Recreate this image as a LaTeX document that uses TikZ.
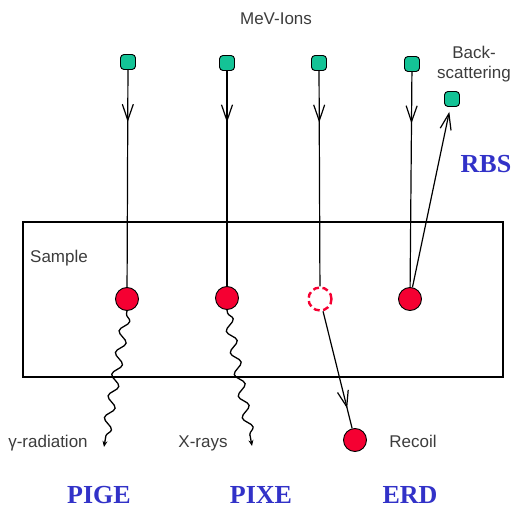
\documentclass[tikz,border=0pt]{standalone}
\usepackage{fontspec}
\setmainfont{Liberation Sans}
\newfontfamily\bigserif{Liberation Serif}
\usetikzlibrary{arrows.meta,decorations.markings,decorations.pathmorphing}
\definecolor{ballred}{RGB}{245,0,50}
\definecolor{iongreen}{RGB}{20,195,150}
\definecolor{labelblue}{RGB}{50,50,200}
\definecolor{txtgray}{RGB}{60,60,60}
\tikzset{
  ion/.style={draw=black,fill=iongreen,rounded corners=3.5pt,minimum size=15pt,inner sep=0pt,line width=0.9pt},
  ball/.style={circle,draw=black,fill=ballred,minimum size=23pt,inner sep=0pt,line width=0.9pt},
  ghost/.style={circle,draw=ballred,dash pattern=on 6pt off 3.5pt,minimum size=23pt,inner sep=0pt,line width=2.4pt},
  beam/.style={line width=1.2pt,postaction={decorate},decoration={markings,mark=at position #1 with {\arrow{Straight Barb[length=16pt,width=11pt,line width=1.2pt]}}}},
  wave/.style={line width=1.3pt,decorate,decoration={snake,amplitude=4.5pt,segment length=22pt,pre length=3pt,post length=5pt},-{Stealth[length=6pt,width=5pt]}},
  lbl/.style={text=txtgray,font=\fontsize{17}{20}\selectfont,inner sep=0pt},
  method/.style={text=labelblue,font=\bigserif\bfseries\fontsize{26}{30}\selectfont,inner sep=0pt},
}
\begin{document}
\begin{tikzpicture}[x=1pt,y=-1pt]
\useasboundingbox (0,0) rectangle (512,508);
\draw[line width=1.4pt] (23,222) rectangle (503,377);
\node[lbl] (title) at (276,19) {MeV-Ions};
\node[lbl] (sample) at (59,258) {Sample};
\node[lbl,align=center] (bslbl) at (474,64) {Back-\\scattering};
\node[method] (rbs) at (486,164) {RBS};
\node[method] (pige) at (99,495) {PIGE};
\node[method] (pixe) at (261,495) {PIXE};
\node[method] (erd) at (410,495) {ERD};
\node[lbl] (gam) at (48,443) {γ-radiation};
\node[lbl] (xr) at (203,443) {X-rays};
\node[lbl] (rec) at (413,441) {Recoil};
% sources
\node[ion] (s1) at (128,62) {};
\node[ion] (s2) at (227,63) {};
\node[ion] (s3) at (319,63) {};
\node[ion] (s4) at (412,64) {};
\node[ion] (bs) at (452,99) {};
% targets
\node[ball] (c1) at (127,299) {};
\node[ball] (c2) at (227,298) {};
\node[ghost] (c3) at (320,299) {};
\node[ball] (c4) at (410,299) {};
\node[ball] (r) at (355,440) {};
\coordinate (g1) at (104,447);
\coordinate (g2) at (252,446);
% beams
\draw[beam=0.24] (s1) -- (c1);
\draw[beam=0.24] (s2) -- (c2);
\draw[beam=0.24] (s3) -- (c3);
\draw[beam=0.24] (s4) -- (c4);
\draw[line width=1.2pt,-{Straight Barb[length=16pt,width=11pt,line width=1.2pt]},shorten >=5pt] (c4) -- (bs);
\draw[beam=0.83] (c3) -- (r);
\draw[wave] (c1.south) -- (g1);
\draw[wave] (c2.south) -- (g2);
\end{tikzpicture}
\end{document}
